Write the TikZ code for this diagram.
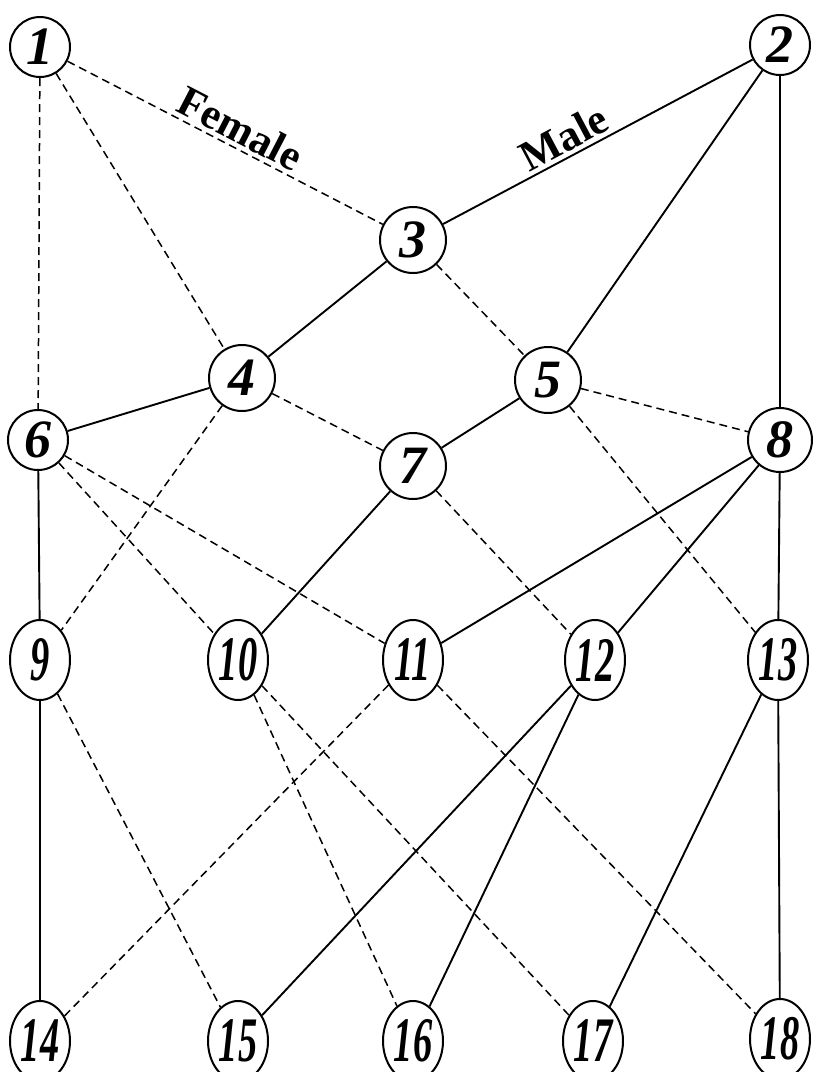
\documentclass[tikz,border=0pt]{standalone}
\usepackage{fontspec}
\setmainfont{Liberation Serif}
\usetikzlibrary{shapes.geometric}
\begin{document}
\begin{tikzpicture}[x=1pt,y=-1pt,
  rnd/.style={circle,draw,line width=2pt,minimum size=60pt,inner sep=0pt,font=\fontsize{54}{54}\selectfont\bfseries\itshape},
  big/.style={rnd,minimum size=66pt},
  ovl/.style={ellipse,draw,line width=2pt,minimum width=60pt,minimum height=80pt,inner sep=0pt,font=\fontsize{52}{52}\selectfont\bfseries\itshape},
  sol/.style={line width=1.9pt},
  dsh/.style={line width=1.5pt,dash pattern=on 8pt off 5pt},
  lab/.style={font=\fontsize{43}{43}\selectfont\bfseries,sloped,above,inner sep=4pt}]
\newcommand{\tw}[1]{\scalebox{0.74}[1.22]{#1}}
\fill[white] (0,0) rectangle (822,1072);
\useasboundingbox (0,0) rectangle (822,1072);
% nodes
\node[rnd] (n1) at (40,47) {1};
\node[rnd] (n2) at (780,45) {2};
\node[big] (n3) at (413,240) {3};
\node[big] (n4) at (242,378) {4};
\node[big] (n5) at (548,380) {5};
\node[rnd] (n6) at (38,440) {6};
\node[big] (n7) at (413,466) {7};
\node[rnd,minimum size=64pt] (n8) at (780,440) {8};
\node[ovl] (n9) at (40,660) {\tw{9}};
\node[ovl] (n10) at (238,660) {\tw{10}};
\node[ovl] (n11) at (413,660) {\tw{11}};
\node[ovl] (n12) at (595,660) {\tw{12}};
\node[ovl] (n13) at (778,660) {\tw{13}};
\node[ovl] (n14) at (40,1041) {\tw{14}};
\node[ovl] (n15) at (238,1041) {\tw{15}};
\node[ovl] (n16) at (413,1041) {\tw{16}};
\node[ovl] (n17) at (593,1041) {\tw{17}};
\node[ovl] (n18) at (780,1039) {\tw{18}};
% edges
\draw[dsh] (n1) -- node[lab,pos=0.52] {Female} (n3);
\draw[sol] (n3) -- node[lab,pos=0.42] {Male} (n2);
\draw[dsh] (n1) -- (n4);
\draw[dsh] (n1) -- (n6);
\draw[sol] (n2) -- (n5);
\draw[sol] (n2) -- (n8);
\draw[sol] (n3) -- (n4);
\draw[dsh] (n3) -- (n5);
\draw[sol] (n4) -- (n6);
\draw[dsh] (n4) -- (n7);
\draw[dsh] (n4) -- (n9);
\draw[sol] (n5) -- (n7);
\draw[dsh] (n5) -- (n8);
\draw[dsh] (n5) -- (n13);
\draw[sol] (n6) -- (n9);
\draw[dsh] (n6) -- (n10);
\draw[dsh] (n6) -- (n11);
\draw[sol] (n7) -- (n10);
\draw[dsh] (n7) -- (n12);
\draw[sol] (n8) -- (n11);
\draw[sol] (n8) -- (n12);
\draw[sol] (n8) -- (n13);
\draw[sol] (n9) -- (n14);
\draw[dsh] (n9) -- (n15);
\draw[dsh] (n10) -- (n16);
\draw[dsh] (n10) -- (n17);
\draw[dsh] (n11) -- (n14);
\draw[dsh] (n11) -- (n18);
\draw[sol] (n12) -- (n15);
\draw[sol] (n12) -- (n16);
\draw[sol] (n13) -- (n17);
\draw[sol] (n13) -- (n18);
\end{tikzpicture}
\end{document}
